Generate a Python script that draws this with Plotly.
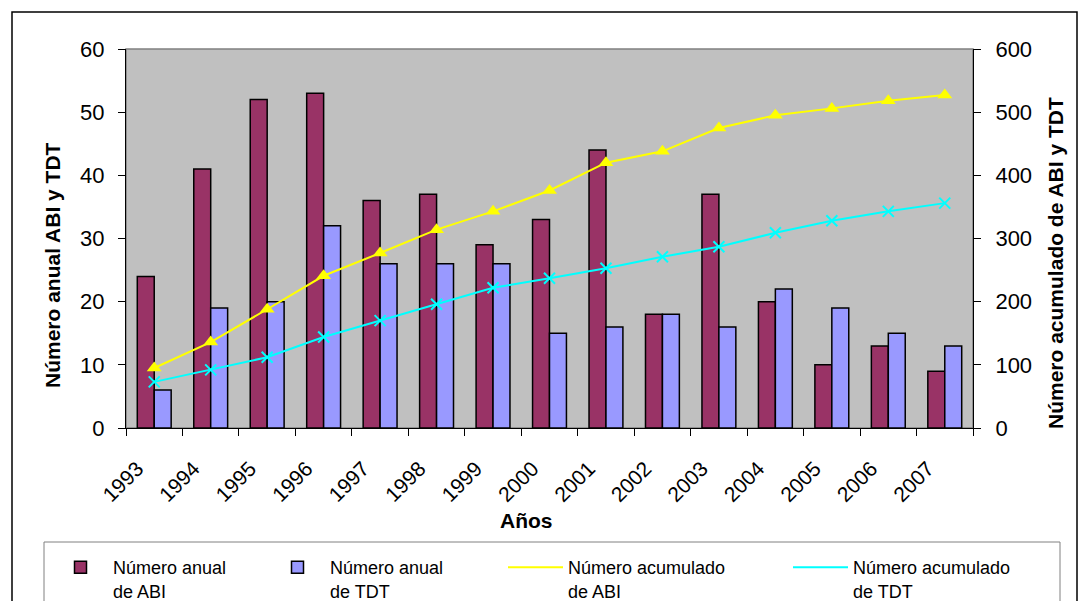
import plotly.graph_objects as go

years = ["1993", "1994", "1995", "1996", "1997", "1998", "1999", "2000",
         "2001", "2002", "2003", "2004", "2005", "2006", "2007"]
abi_anual = [24, 41, 52, 53, 36, 37, 29, 33, 44, 18, 37, 20, 10, 13, 9]
tdt_anual = [6, 19, 20, 32, 26, 26, 26, 15, 16, 18, 16, 22, 19, 15, 13]
abi_acum = [95, 136, 188, 241, 277, 314, 343, 376, 420, 438, 475, 495, 506, 518, 527]
tdt_acum = [73, 92, 112, 144, 170, 196, 222, 237, 253, 271, 287, 309, 328, 343, 356]

FONT = "Liberation Sans, Arial, sans-serif"

OFF = 8  # page body margin
W, H = 1087 - 2 * OFF, 609 - 2 * OFF
L, R, T, B = 126 - OFF, 973 - OFF, 49 - OFF, 428 - OFF
pw, ph = R - L, B - T

def px(xpage):
    return (xpage - OFF - L) / pw

def py(ypage):
    return (B - (ypage - OFF)) / ph

fig = go.Figure()
fig.add_trace(go.Bar(x=years, y=abi_anual, name="Número anual<br>de ABI", legend="legend",
                     marker=dict(color="#993366", line=dict(color="black", width=1.5))))
fig.add_trace(go.Bar(x=years, y=tdt_anual, name="Número anual<br>de TDT", legend="legend2",
                     marker=dict(color="#9999FF", line=dict(color="black", width=1.5))))
fig.add_trace(go.Scatter(x=years, y=abi_acum, name="Número acumulado<br>de ABI", yaxis="y2",
                         legend="legend3", mode="lines", line=dict(color="#FFFF00", width=2)))
fig.add_trace(go.Scatter(x=years, y=abi_acum, yaxis="y2", showlegend=False, mode="markers",
                         marker=dict(symbol="triangle-up", size=13, color="#FFFF00")))
fig.add_trace(go.Scatter(x=years, y=tdt_acum, name="Número acumulado<br>de TDT", yaxis="y2",
                         legend="legend4", mode="lines", line=dict(color="#00FFFF", width=2)))
fig.add_trace(go.Scatter(x=years, y=tdt_acum, yaxis="y2", showlegend=False, mode="markers",
                         marker=dict(symbol="x-thin", size=11, color="#00FFFF",
                                     line=dict(color="#00FFFF", width=2))))

def leg(xpage):
    return dict(x=px(xpage), y=py(549), xanchor="left", yanchor="top",
                font=dict(size=18, family=FONT), valign="top",
                bgcolor="rgba(0,0,0,0)", borderwidth=0, itemwidth=55)

tick_common = dict(tickcolor="black", showgrid=False, zeroline=False, automargin=False)

fig.update_layout(
    width=W, height=H,
    margin=dict(l=L, r=W - R, t=T, b=H - B, autoexpand=False),
    paper_bgcolor="white",
    plot_bgcolor="#C0C0C0",
    barmode="group", bargap=0.4, bargroupgap=0,
    font=dict(family=FONT, size=20, color="black"),
    showlegend=True,
    legend=leg(48), legend2=leg(265), legend3=leg(503), legend4=leg(788),
    xaxis=dict(type="category", categoryorder="array", categoryarray=years,
               range=[-0.5, len(years) - 0.5], tickson="boundaries",
               ticks="outside", ticklen=7,
               showline=True, linecolor="black", linewidth=1,
               tickangle=-45, tickfont=dict(size=21), ticklabelshift=-17,
               ticklabelstandoff=19, **tick_common),
    yaxis=dict(range=[0, 60], dtick=10, ticks="outside", ticklen=7,
               showline=True, linecolor="black", linewidth=1,
               tickfont=dict(size=22), ticklabelstandoff=9, **tick_common),
    yaxis2=dict(range=[0, 600], dtick=100, overlaying="y", side="right",
                ticks="outside", ticklen=7, showline=True,
                linecolor="black", linewidth=1,
                tickfont=dict(size=22), ticklabelstandoff=10, **tick_common),
    yaxis3=dict(range=[0, 60], dtick=10, overlaying="y", side="left", ticks="inside",
                ticklen=7, showticklabels=False, showline=False, **tick_common),
    yaxis4=dict(range=[0, 600], dtick=100, overlaying="y", side="right", ticks="inside",
                ticklen=7, showticklabels=False, showline=False, **tick_common),
    annotations=[
        dict(text="<b>Número anual ABI y TDT</b>", textangle=-90, xref="paper", yref="paper",
             x=px(52), y=py(265), xanchor="center", yanchor="middle", showarrow=False,
             font=dict(size=21)),
        dict(text="<b>Número acumulado de ABI y TDT</b>", textangle=-90, xref="paper",
             yref="paper", x=px(1055), y=py(263), xanchor="center", yanchor="middle",
             showarrow=False, font=dict(size=21)),
        dict(text="<b>Años</b>", xref="paper", yref="paper", x=px(526), y=py(520),
             xanchor="center", yanchor="middle", showarrow=False, font=dict(size=21)),
    ],
    shapes=[
        dict(type="rect", xref="paper", yref="paper", x0=0, x1=1, y0=0, y1=1,
             line=dict(color="#808080", width=1.5), layer="below"),
        dict(type="rect", xref="paper", yref="paper", x0=px(12), x1=px(1077),
             y0=py(612), y1=py(12), line=dict(color="black", width=1.5)),
        dict(type="rect", xref="paper", yref="paper", x0=px(44), x1=px(1060),
             y0=py(607), y1=py(542), line=dict(color="#808080", width=1)),
    ],
)

fig.write_html("out.html")
